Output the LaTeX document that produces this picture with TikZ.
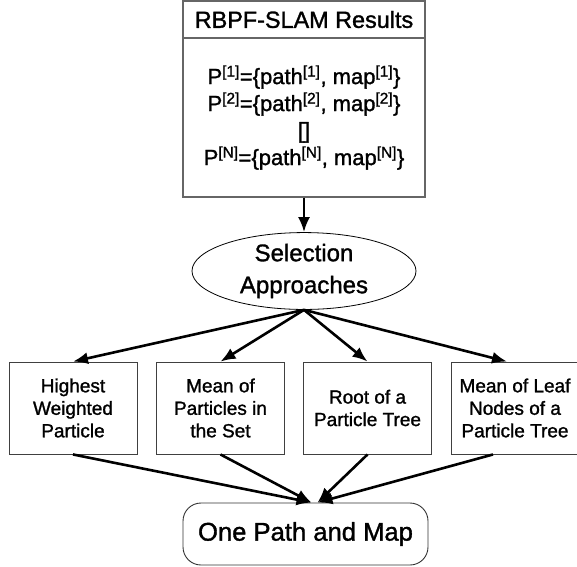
\documentclass[tikz,border=0pt]{standalone}
\usepackage{fontspec}
\setmainfont[FakeBold=1.3]{Liberation Sans}
\usetikzlibrary{arrows.meta}
\usetikzlibrary{shapes}
\tikzstyle{box}=[draw=black!75,line width=0.9pt,minimum width=128pt,minimum height=92pt,inner sep=0pt,align=center,font=\fontsize{19}{22.5}\selectfont]
\tikzstyle{arr}=[line width=2.6pt,-{Latex[length=15pt,width=12pt]}]

\begin{document}
\begin{tikzpicture}[x=1pt,y=-1pt]
\useasboundingbox (0,0) rectangle (577,566);
\tikzstyle{top}=[draw=black!60,line width=1.2pt,minimum width=242pt,inner sep=0pt,align=center]
\node [top,minimum height=37pt,font=\fontsize{23.4}{28}\selectfont] (res) at (304,19.5) {RBPF-SLAM Results};
\node [top,minimum height=159pt,font=\fontsize{22}{27}\selectfont] (body) at (304,117.5) {P\textsuperscript{[1]}=\{path\textsuperscript{[1]}, map\textsuperscript{[1]}\}\\
  P\textsuperscript{[2]}=\{path\textsuperscript{[2]}, map\textsuperscript{[2]}\}\\
  \relax{[]}\\
  P\textsuperscript{[N]}=\{path\textsuperscript{[N]}, map\textsuperscript{[N]}\}};
\node [draw,ellipse,line width=0.8pt,minimum width=224pt,minimum height=74pt,inner sep=0pt,align=center,font=\fontsize{24}{32}\selectfont] (sel) at (304,271) {Selection\\Approaches};
% the four approaches
\node [box] (h) at (73,408) {Highest\\Weighted\\Particle};
\node [box] (m) at (220.5,408) {Mean of\\Particles in\\the Set};
\node [box] (root) at (367.5,408) {Root of a\\Particle Tree};
\node [box] (leaf) at (515,408) {Mean of Leaf\\Nodes of a\\Particle Tree};
\node [draw=black!80,line width=0.9pt,rounded corners=18pt,minimum width=245pt,minimum height=62pt,inner sep=0pt,font=\fontsize{25.6}{30}\selectfont] (out) at (305.5,534) {One Path and Map};

\draw [arr] (body.south) -- (sel.north);
\draw [arr] (sel.south) -- (h.north);
\draw [arr] (sel.south) -- (m.north);
\draw [arr] (sel.south) -- (root.north);
\draw [arr] (sel.south) -- ([xshift=-8pt]leaf.north);
\draw [arr] (h.south) -- ([xshift=6pt]out.north);
\draw [arr] (m.south) -- ([xshift=6pt]out.north);
\draw [arr] (root.south) -- ([xshift=12pt]out.north);
\draw [arr] ([xshift=-22pt]leaf.south) -- ([xshift=12pt]out.north);
\end{tikzpicture}
\end{document}
